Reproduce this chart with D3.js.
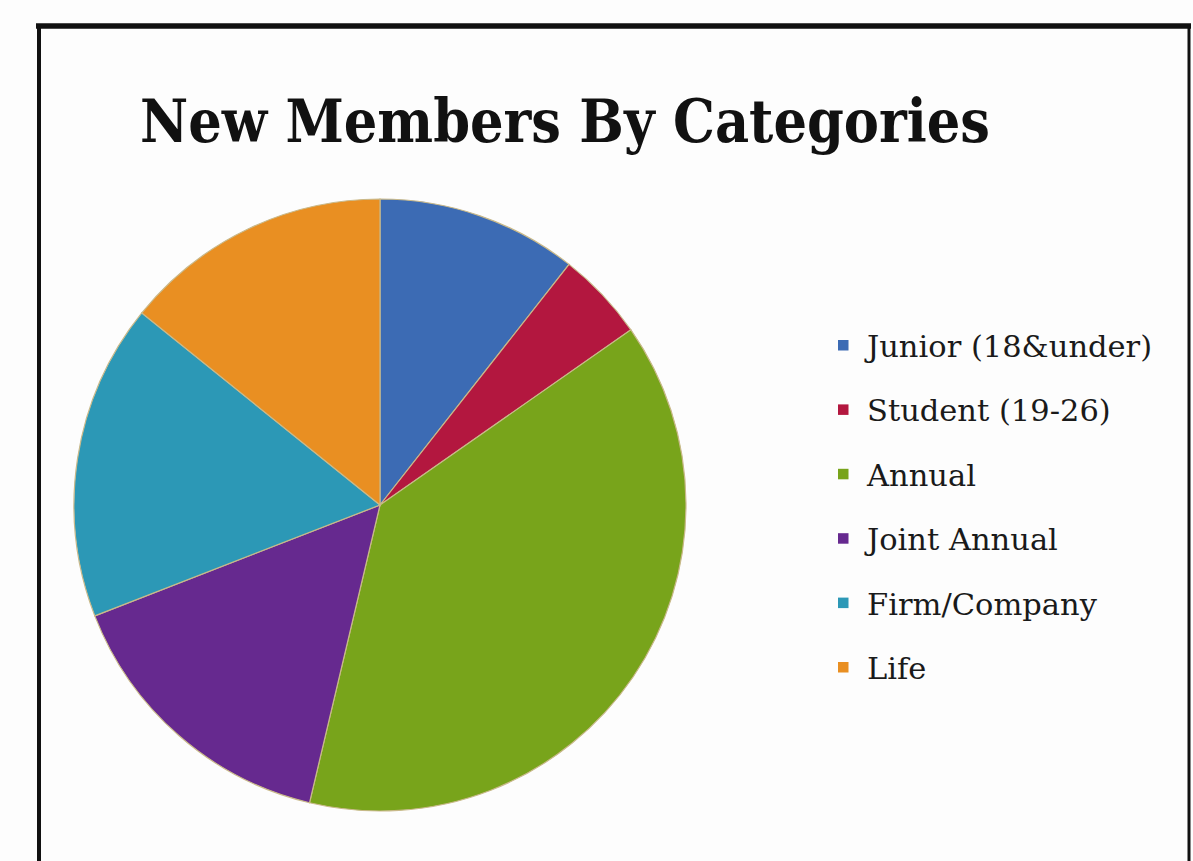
<!DOCTYPE html>
<html><head><meta charset="utf-8">
<script src="https://cdn.jsdelivr.net/npm/d3@7"></script>
<style>html,body{margin:0;padding:0;background:#fdfdfd;}</style>
</head><body>
<svg id="c" width="1193" height="861"></svg>
<script>
const categories = ["Junior (18&under)", "Student (19-26)", "Annual", "Joint Annual", "Firm/Company", "Life"];
const values = [10.6, 4.7, 38.4, 15.4, 16.7, 14.2];
const colors = ["#3c6bb4", "#b3173f", "#78a41b", "#66298f", "#2c98b6", "#e98f22"];
const title = "New Members By Categories";

const svg = d3.select("#c");
svg.append("rect").attr("x",0).attr("y",0).attr("width",1193).attr("height",861).attr("fill","#fdfdfd");
// frame
svg.append("line").attr("x1",36).attr("x2",1191).attr("y1",26).attr("y2",26).attr("stroke","#111").attr("stroke-width",5.5);
svg.append("line").attr("x1",39).attr("x2",39).attr("y1",24).attr("y2",861).attr("stroke","#111").attr("stroke-width",4);
svg.append("line").attr("x1",1189).attr("x2",1189).attr("y1",24).attr("y2",861).attr("stroke","#111").attr("stroke-width",3);

svg.append("text").attr("x",140).attr("y",142)
  .attr("font-family","'DejaVu Serif Condensed', 'DejaVu Serif', serif")
  .attr("font-stretch","condensed").attr("font-weight","bold")
  .attr("font-size",60).attr("fill","#111")
  .attr("textLength",850).attr("lengthAdjust","spacingAndGlyphs")
  .text(title);

const cx = 380, cy = 505, r = 306;
const pie = d3.pie().sort(null).value(d => d)(values);
const arc = d3.arc().innerRadius(0).outerRadius(r);
const color = d3.scaleOrdinal().domain(categories).range(colors);
const g = svg.append("g").attr("transform",`translate(${cx},${cy})`);
g.selectAll("path").data(pie).join("path")
  .attr("d", arc)
  .attr("fill", (d,i) => color(categories[i]))
  .attr("stroke", "#c9b98a").attr("stroke-width", 1.2);

const leg = svg.append("g");
const rows = leg.selectAll("g").data(categories).join("g")
  .attr("transform",(d,i)=>`translate(838,${357 + i*64.4})`);
rows.append("rect").attr("x",0).attr("y",-17).attr("width",10.5).attr("height",10.5)
  .attr("fill", d => color(d));
rows.append("text").attr("x",29).attr("y",0)
  .attr("font-family","'DejaVu Serif', serif")
  .attr("font-size",30.5).attr("fill","#1a1a1a").text(d => d);
</script>
</body></html>
